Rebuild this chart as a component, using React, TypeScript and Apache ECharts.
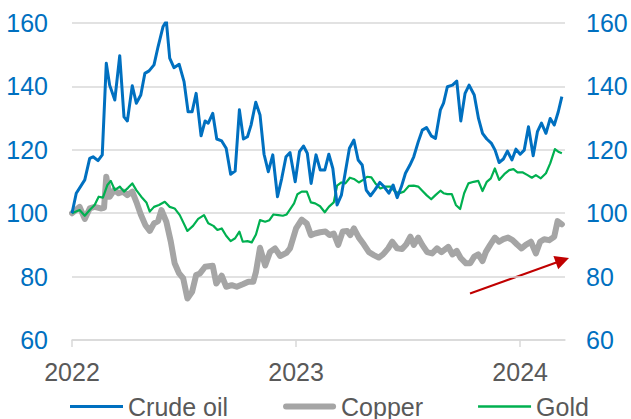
import React, { useEffect, useRef } from "react";
import * as echarts from "echarts";

// [decimal year, index value]
const crudeOil: [number, number][] = [
  [2022.0, 100], [2022.019, 106.3], [2022.057, 110.5], [2022.079, 117.3], [2022.094, 117.8],
  [2022.116, 116.6], [2022.135, 118.4], [2022.153, 147.3], [2022.168, 140.4], [2022.191, 135.7],
  [2022.213, 149.7], [2022.232, 130.4], [2022.247, 129.1], [2022.269, 140.2], [2022.287, 134.7],
  [2022.307, 137.3], [2022.325, 144.1], [2022.344, 144.9], [2022.366, 146.8], [2022.384, 152.5],
  [2022.406, 158.8], [2022.421, 160.6], [2022.436, 148.9], [2022.455, 145.9], [2022.478, 147],
  [2022.5, 141.5], [2022.518, 132], [2022.536, 132], [2022.554, 137.8], [2022.576, 124.4],
  [2022.594, 129.1], [2022.608, 128.4], [2022.628, 131.5], [2022.646, 123.4], [2022.668, 122.8],
  [2022.688, 120.5], [2022.708, 112.3], [2022.728, 113.3], [2022.747, 132.6], [2022.765, 123.4],
  [2022.783, 124.1], [2022.799, 127.8], [2022.82, 135], [2022.839, 131], [2022.857, 118.6],
  [2022.876, 113.1], [2022.896, 118.4], [2022.917, 105.2], [2022.936, 111], [2022.955, 117.8],
  [2022.973, 119.1], [2022.996, 109.9], [2023.015, 119.4], [2023.033, 121.2], [2023.05, 118.9],
  [2023.067, 109.4], [2023.089, 118.4], [2023.108, 113.6], [2023.128, 113.6], [2023.146, 118.6],
  [2023.164, 114.1], [2023.183, 102.6], [2023.202, 105.7], [2023.22, 113.1], [2023.238, 120.5],
  [2023.258, 123.1], [2023.277, 116.8], [2023.295, 115.2], [2023.313, 107.3], [2023.332, 105.5],
  [2023.351, 107.3], [2023.374, 109.7], [2023.392, 108.4], [2023.414, 106.3], [2023.433, 108.9],
  [2023.451, 104.9], [2023.47, 108.4], [2023.488, 112.6], [2023.508, 115.2], [2023.525, 117.8],
  [2023.545, 122.5], [2023.563, 126.2], [2023.582, 127], [2023.603, 124.4], [2023.622, 123.6],
  [2023.644, 132.6], [2023.658, 134.7], [2023.675, 139.9], [2023.698, 140.4], [2023.717, 141.7],
  [2023.735, 129.1], [2023.754, 137.8], [2023.772, 140.4], [2023.795, 137.3], [2023.814, 129.9],
  [2023.832, 125.2], [2023.851, 123.4], [2023.872, 122], [2023.888, 119.9], [2023.906, 116],
  [2023.925, 117.1], [2023.943, 119.6], [2023.963, 116.8], [2023.981, 120.2], [2024.0, 118.6],
  [2024.018, 119.9], [2024.037, 127.3], [2024.058, 118.1], [2024.077, 125.7], [2024.095, 128.4],
  [2024.115, 125.2], [2024.134, 129.9], [2024.152, 127.8], [2024.17, 132], [2024.186, 136.8],
];

const copper: [number, number][] = [
  [2022.0, 100], [2022.034, 102], [2022.057, 98.2], [2022.079, 101.5], [2022.101, 102],
  [2022.128, 101.5], [2022.143, 101.7], [2022.153, 111.5], [2022.168, 105.2], [2022.188, 107.3],
  [2022.208, 106.3], [2022.228, 106.8], [2022.247, 105.7], [2022.269, 106.8], [2022.287, 103.6],
  [2022.307, 99.6], [2022.327, 96.3], [2022.347, 94.4], [2022.366, 96.8], [2022.384, 97.5],
  [2022.399, 101], [2022.421, 97.3], [2022.441, 91], [2022.458, 84.2], [2022.478, 81],
  [2022.496, 79.5], [2022.515, 73.1], [2022.536, 75.2], [2022.554, 80.5], [2022.571, 81],
  [2022.594, 83.1], [2022.628, 83.4], [2022.644, 77.8], [2022.668, 80.3], [2022.688, 76.8],
  [2022.713, 77.3], [2022.735, 76.8], [2022.762, 77.6], [2022.787, 78.4], [2022.809, 78.4],
  [2022.821, 81.5], [2022.839, 89.1], [2022.862, 83.5], [2022.884, 87.8], [2022.906, 88.9],
  [2022.929, 86.5], [2022.957, 87.5], [2022.973, 88.9], [2023.0, 95.2], [2023.025, 98],
  [2023.048, 96.7], [2023.066, 93.1], [2023.085, 93.6], [2023.107, 94], [2023.131, 94.2],
  [2023.149, 93.1], [2023.168, 93.6], [2023.188, 90], [2023.208, 94.2], [2023.228, 94.4],
  [2023.242, 93.1], [2023.258, 95.2], [2023.28, 92.3], [2023.302, 90.2], [2023.325, 87.7],
  [2023.347, 86.8], [2023.369, 86], [2023.388, 87], [2023.411, 88.9], [2023.429, 91],
  [2023.451, 88.9], [2023.473, 88.7], [2023.492, 90.2], [2023.51, 92.6], [2023.525, 90],
  [2023.545, 92.3], [2023.563, 90], [2023.585, 87.7], [2023.607, 87.3], [2023.629, 88.9],
  [2023.649, 87.7], [2023.679, 89.4], [2023.698, 87], [2023.717, 88.1], [2023.735, 85.8],
  [2023.758, 84.2], [2023.777, 84.2], [2023.795, 86.3], [2023.813, 87], [2023.832, 84.9],
  [2023.847, 87.8], [2023.866, 90], [2023.887, 92.3], [2023.906, 91], [2023.925, 91.8],
  [2023.946, 92.3], [2023.966, 91.5], [2023.985, 90.2], [2024.006, 88.9], [2024.025, 90],
  [2024.048, 91], [2024.07, 87.3], [2024.089, 91], [2024.107, 91.8], [2024.129, 91.5],
  [2024.152, 92.6], [2024.167, 97.5], [2024.186, 96.5],
];

const gold: [number, number][] = [
  [2022.0, 100], [2022.034, 101], [2022.057, 99.2], [2022.079, 101], [2022.101, 102.6],
  [2022.119, 105.2], [2022.138, 104.9], [2022.158, 108.9], [2022.173, 110.2], [2022.191, 107.3],
  [2022.213, 108.4], [2022.232, 106.8], [2022.25, 108], [2022.269, 109.4], [2022.287, 107.3],
  [2022.309, 105.2], [2022.332, 103.4], [2022.347, 100.5], [2022.366, 102], [2022.388, 102.6],
  [2022.414, 103.6], [2022.436, 102], [2022.458, 101.5], [2022.481, 99.4], [2022.515, 94.4],
  [2022.54, 96], [2022.563, 98.2], [2022.589, 99.4], [2022.608, 96.8], [2022.631, 96],
  [2022.649, 94.7], [2022.668, 95.2], [2022.688, 92.9], [2022.708, 91.2], [2022.728, 92.1],
  [2022.747, 94.2], [2022.762, 91], [2022.783, 91.2], [2022.802, 90.8], [2022.821, 93.3],
  [2022.839, 97.8], [2022.862, 97.3], [2022.881, 97.8], [2022.899, 99.6], [2022.921, 99.4],
  [2022.941, 99.2], [2022.958, 99.6], [2022.976, 101.5], [2022.991, 103.1], [2023.006, 106],
  [2023.025, 106.8], [2023.048, 106.8], [2023.066, 103.4], [2023.085, 103.1], [2023.107, 102.2],
  [2023.128, 100.3], [2023.146, 102], [2023.168, 103.4], [2023.183, 108.7], [2023.202, 109.7],
  [2023.22, 109.4], [2023.24, 111.2], [2023.258, 110.8], [2023.28, 109.7], [2023.299, 110.5],
  [2023.317, 111.5], [2023.336, 111.3], [2023.354, 109.4], [2023.376, 107.8], [2023.399, 108.4],
  [2023.421, 108.4], [2023.441, 106.8], [2023.461, 106.3], [2023.481, 106.8], [2023.503, 108.6],
  [2023.525, 108.7], [2023.545, 108.4], [2023.563, 107.1], [2023.582, 105.7], [2023.603, 104.4],
  [2023.622, 105.7], [2023.644, 107.1], [2023.658, 106.3], [2023.675, 106], [2023.695, 106],
  [2023.713, 102.6], [2023.732, 101.3], [2023.75, 106.3], [2023.769, 109.4], [2023.792, 109.9],
  [2023.813, 110.2], [2023.832, 107], [2023.851, 109.9], [2023.869, 111], [2023.887, 114.1],
  [2023.906, 110.5], [2023.929, 112.3], [2023.951, 113.6], [2023.97, 113.9], [2023.988, 112.9],
  [2024.01, 112.9], [2024.033, 112], [2024.052, 111.2], [2024.07, 112], [2024.092, 111],
  [2024.115, 112.6], [2024.134, 115.7], [2024.155, 120.2], [2024.17, 119.4], [2024.186, 118.9],
];

const yearTicks = [2022, 2023, 2024];
const seriesNames = ["Crude oil", "Copper", "Gold"];

export default function App() {
  const ref = useRef<HTMLDivElement>(null);
  useEffect(() => {
    if (!ref.current) return;
    const chart = echarts.init(ref.current, null, { renderer: "svg" });
    const font = "'Liberation Sans', Arial, sans-serif";
    const legendIcons: Record<string, string> = {
      "Crude oil": "path://M0,0H53V3H0Z",
      Copper: "path://M3,0H50A3,3,0,0,1,50,6H3A3,3,0,0,1,3,0Z",
      Gold: "path://M0,0H53V2.5H0Z",
    };
    const yAxisBase = {
      type: "value" as const,
      min: 60,
      max: 160,
      interval: 20,
      axisLine: { show: false },
      axisTick: { show: false },
      axisLabel: { color: "#0070C0", fontSize: 25, fontFamily: font },
    };
    chart.setOption({
      animation: false,
      grid: { left: 72, right: 66, top: 23, bottom: 79, containLabel: false },
      legend: {
        data: seriesNames.map((name) => ({ name, icon: legendIcons[name] })),
        left: 65,
        top: 389,
        itemWidth: 53,
        itemHeight: 14,
        itemGap: 55,
        symbolKeepAspect: true,
        textStyle: { fontSize: 25, color: "#595959", fontFamily: font },
      },
      xAxis: {
        type: "value",
        min: 2022,
        max: 2024.2,
        interval: 1,
        axisLine: { lineStyle: { color: "#D9D9D9", width: 1.5 } },
        axisTick: {
          show: true,
          length: 7,
          customValues: yearTicks,
          lineStyle: { color: "#D9D9D9", width: 1.5 },
        },
        axisLabel: {
          customValues: yearTicks,
          color: "#595959",
          fontSize: 25,
          fontFamily: font,
          margin: 19,
          formatter: (v: number) => String(Math.round(v)),
        },
        splitLine: { show: false },
      },
      yAxis: [
        {
          ...yAxisBase,
          position: "left",
          axisLabel: { ...yAxisBase.axisLabel, margin: 24 },
          splitLine: { lineStyle: { color: "#D9D9D9", width: 1.5 } },
        },
        {
          ...yAxisBase,
          position: "right",
          axisLabel: { ...yAxisBase.axisLabel, margin: 21 },
          splitLine: { show: false },
        },
      ],
      series: [
        {
          name: "Copper",
          type: "line",
          data: copper,
          symbol: "none",
          lineStyle: { color: "#A5A5A5", width: 6, cap: "round", join: "round" },
          itemStyle: { color: "#A5A5A5" },
        },
        {
          name: "Gold",
          type: "line",
          data: gold,
          symbol: "none",
          lineStyle: { color: "#00B050", width: 2.2, join: "round" },
          itemStyle: { color: "#00B050" },
        },
        {
          name: "Crude oil",
          type: "line",
          data: crudeOil,
          symbol: "none",
          lineStyle: { color: "#0070C0", width: 3, join: "round" },
          itemStyle: { color: "#0070C0" },
        },
      ],
      graphic: [
        {
          type: "line",
          shape: { x1: 470, y1: 293.5, x2: 557, y2: 262.3 },
          style: { stroke: "#C00000", lineWidth: 2 },
        },
        {
          type: "polygon",
          shape: { points: [[569, 258], [558.2, 269.3], [553.4, 256.1]] },
          style: { fill: "#C00000" },
        },
      ],
    });
    return () => chart.dispose();
  }, []);
  return (
    <div
      ref={ref}
      style={{ position: "absolute", left: 0, top: 0, width: 631, height: 419, background: "#fff" }}
    />
  );
}
